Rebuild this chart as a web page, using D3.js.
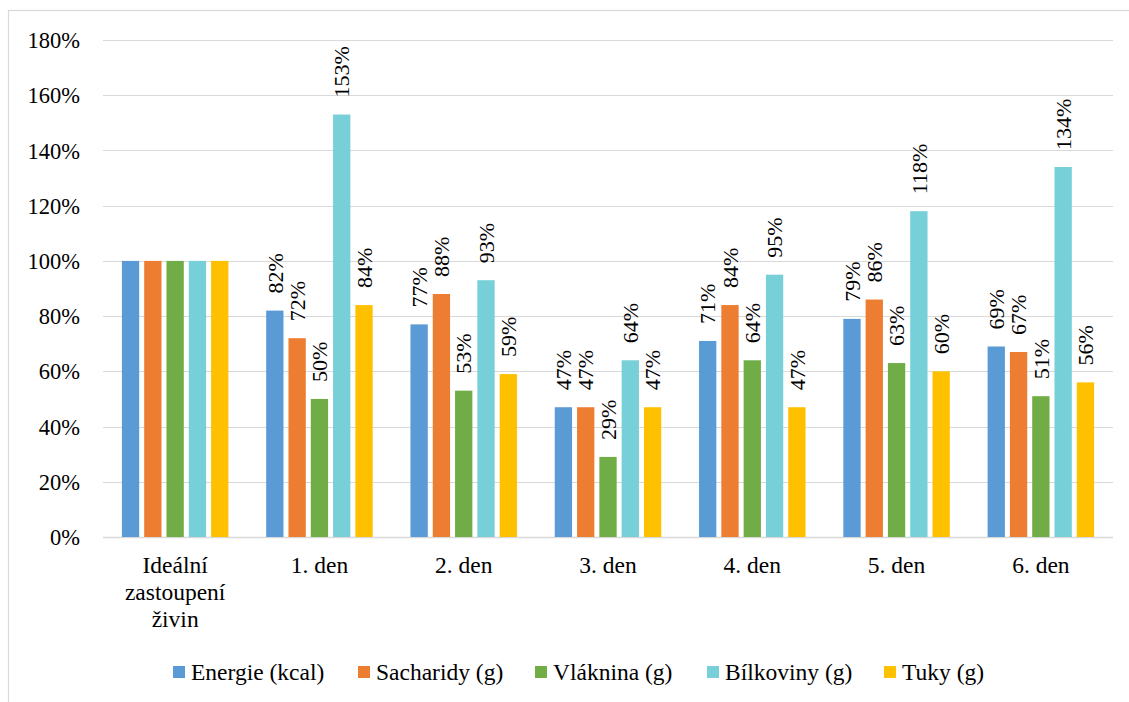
<!DOCTYPE html>
<html>
<head>
<meta charset="utf-8">
<script src="https://cdn.jsdelivr.net/npm/d3@7"></script>
</head>
<body style="margin:0;background:#ffffff">
<div id="wrap" style="font-family:'Liberation Serif', 'Times New Roman', serif">
<svg id="fig" width="1129" height="702"></svg>
</div>
<script>
// Categories (days) and nutrient series, values in percent of the ideal intake
const categories = ["Ideální zastoupení živin", "1. den", "2. den", "3. den", "4. den", "5. den", "6. den"];
const seriesNames = ["Energie (kcal)", "Sacharidy (g)", "Vláknina (g)", "Bílkoviny (g)", "Tuky (g)"];
const energie    = [100, 82, 77, 47, 71, 79, 69];
const sacharidy  = [100, 72, 88, 47, 84, 86, 67];
const vlaknina   = [100, 50, 53, 29, 64, 63, 51];
const bilkoviny  = [100, 153, 93, 64, 95, 118, 134];
const tuky       = [100, 84, 59, 47, 47, 60, 56];
const yTicks = [0, 20, 40, 60, 80, 100, 120, 140, 160, 180];
const seriesColors = ["#5B9BD5", "#ED7D31", "#70AD47", "#77CFD8", "#FFC000"];

const seriesValues = [energie, sacharidy, vlaknina, bilkoviny, tuky];
const FONT = "'Liberation Serif', 'Times New Roman', serif";

const svg = d3.select("#fig");
const plot = { left: 103, right: 1113, top: 40, bottom: 537 };

// serif text helper: every label goes through here
function serif(sel, size) {
  sel.each(function () {
    this.setAttribute("font-family", "Liberation Serif");
    this.style.setProperty("font-family", FONT, "important");
    this.style.setProperty("font-size", size + "px", "important");
  });
  return sel;
}

// chart area outline
svg.append("rect")
  .attr("x", 8.5).attr("y", 10.5)
  .attr("width", 1300).attr("height", 900)
  .attr("fill", "none").attr("stroke", "#D9D9D9").attr("stroke-width", 1.2);

const y = d3.scaleLinear().domain([0, 180]).range([plot.bottom, plot.top]);
const x0 = d3.scaleBand().domain(categories).range([plot.left, plot.right]).padding(0);
const groupWidth = 106.5;
const x1 = d3.scaleBand().domain(seriesNames)
  .range([-groupWidth / 2, groupWidth / 2])
  .paddingInner(0.224).paddingOuter(0);

// gridlines
svg.append("g").selectAll("line").data(yTicks).join("line")
  .attr("x1", plot.left).attr("x2", plot.right)
  .attr("y1", d => Math.round(y(d)) + 0.5).attr("y2", d => Math.round(y(d)) + 0.5)
  .attr("stroke", "#D9D9D9")
  .attr("stroke-width", d => d === 0 ? 1.6 : 1.2);

// y axis tick labels
const yAxis = d3.axisLeft(y).tickValues(yTicks).tickFormat(d => d + "%").tickSize(0).tickPadding(0);
const yG = svg.append("g").attr("transform", "translate(80,0)").call(yAxis);
yG.attr("font-family", null).attr("font-size", null);
yG.select(".domain").remove();
serif(yG.selectAll("text").attr("fill", "#000").attr("dy", "0.34em"), 22.5);

// bars
const rows = [];
seriesNames.forEach((s, si) => {
  categories.forEach((c, ci) => rows.push({ s, si, c, ci, v: seriesValues[si][ci] }));
});

svg.append("g").selectAll("rect").data(rows).join("rect")
  .attr("x", d => x0(d.c) + x0.bandwidth() / 2 + x1(d.s))
  .attr("width", x1.bandwidth())
  .attr("y", d => y(d.v))
  .attr("height", d => y(0) - y(d.v))
  .attr("fill", d => seriesColors[d.si]);

// value labels (the ideal column carries none)
serif(svg.append("g")
  .selectAll("text").data(rows.filter(d => d.ci > 0)).join("text")
  .attr("transform", d => {
    const cx = x0(d.c) + x0.bandwidth() / 2 + x1(d.s) + x1.bandwidth() / 2;
    return `translate(${cx},${y(d.v) - 17}) rotate(-90)`;
  })
  .attr("dy", "0.35em")
  .attr("fill", "#000")
  .text(d => d.v + "%"), 22);

// category labels; the long first label is broken one word per line
const catG = svg.append("g");
categories.forEach(c => {
  const cx = x0(c) + x0.bandwidth() / 2;
  const t = catG.append("text")
    .attr("x", cx).attr("y", 573)
    .attr("text-anchor", "middle")
    .attr("fill", "#000");
  serif(t, 23.5);
  const lines = /^\d/.test(c) ? [c] : c.split(" ");
  lines.forEach((w, i) => {
    t.append("tspan").attr("x", cx).attr("dy", i === 0 ? 0 : 27).text(w);
  });
});

// legend
const legendOffsets = [0, 185, 362, 534, 711];
const legend = svg.append("g").attr("transform", "translate(173,672)");
seriesNames.forEach((name, i) => {
  const g = legend.append("g").attr("transform", `translate(${legendOffsets[i]},0)`);
  g.append("rect").attr("x", 0).attr("y", -6).attr("width", 12).attr("height", 12)
    .attr("fill", seriesColors[i]);
  serif(g.append("text").attr("x", 18).attr("y", 0).attr("dy", "0.34em")
    .attr("fill", "#000").text(name), 23.5);
});
</script>
</body>
</html>
